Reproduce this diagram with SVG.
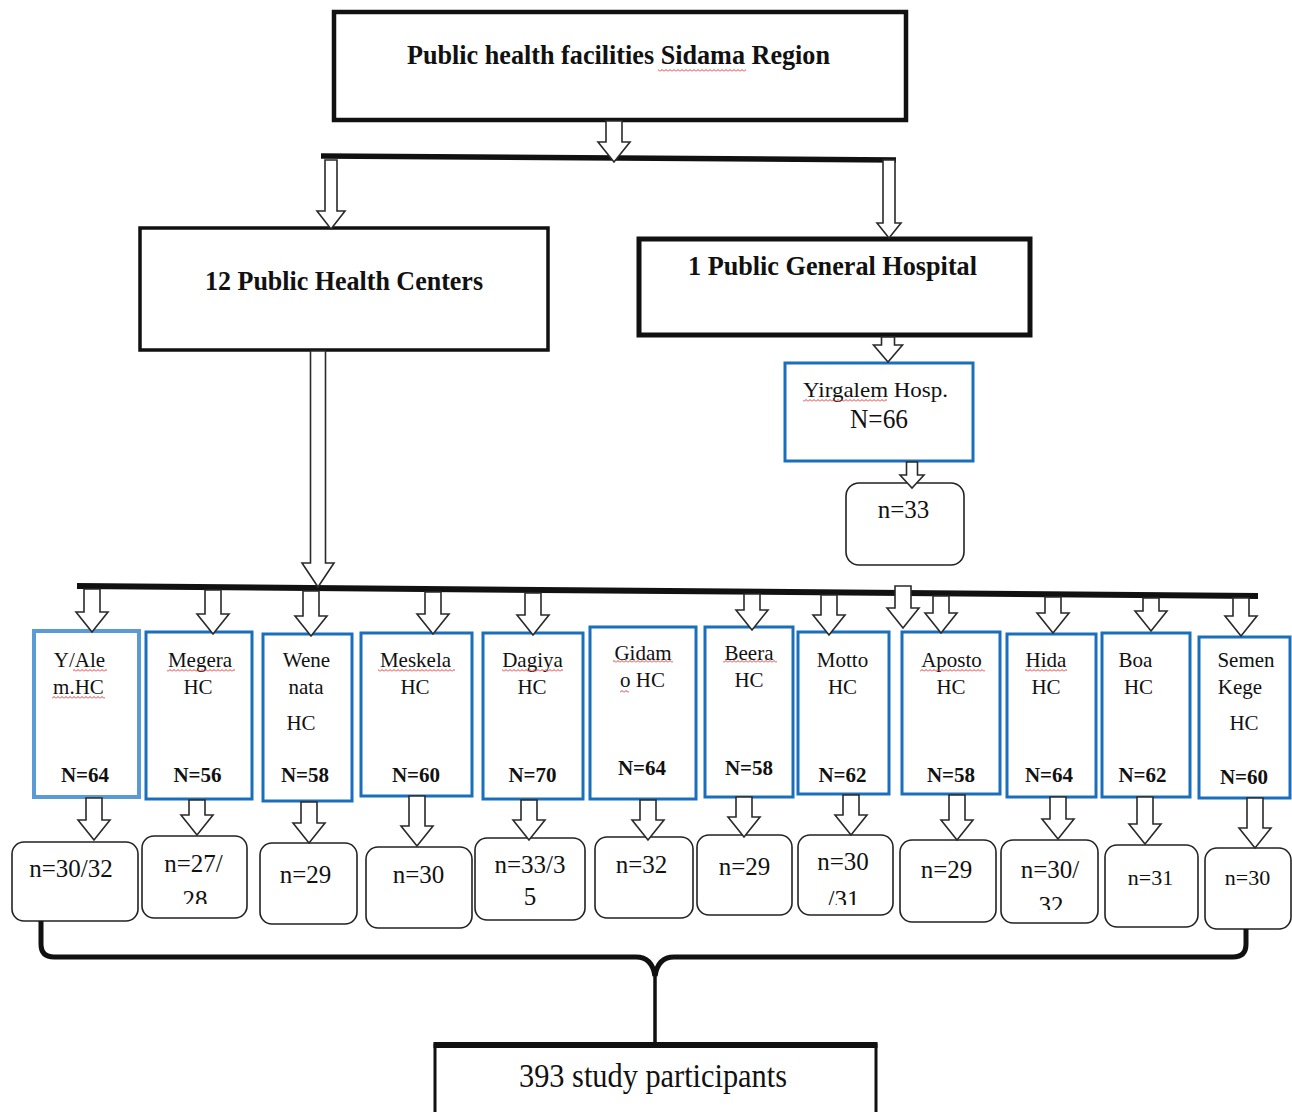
<svg xmlns="http://www.w3.org/2000/svg" width="1292" height="1112" viewBox="0 0 1292 1112">
<style>
  .bg{fill:#ffffff}
  .bk{fill:#ffffff;stroke:#111111}
  .hc{fill:#ffffff;stroke:#1a6fbd;stroke-width:3}
  .hc1{fill:#ffffff;stroke:#5b9bd5;stroke-width:4}
  .nb{fill:#ffffff;stroke:#222222;stroke-width:1.6}
  .ar{fill:#ffffff;stroke:#2a2a2a;stroke-width:1.6;stroke-linejoin:miter}
  .bar{stroke:#111111;fill:none;stroke-linecap:butt}
  text{font-family:"Liberation Serif","Times New Roman",serif;fill:#111111;text-anchor:middle}
  .t{font-size:28px;font-weight:bold}
  .nm{font-size:21px}
  .nn{font-size:21px;font-weight:bold}
  .ns{font-size:25px}
  .nsm{font-size:22px}
  .sq{fill:url(#wavy)}
</style>
<defs>
  <pattern id="wavy" width="4" height="3" patternUnits="userSpaceOnUse">
    <path d="M0 2.5 L2 0.5 L4 2.5" fill="none" stroke="#e02020" stroke-width="0.9"/>
  </pattern>
  <clipPath id="c2"><rect x="142" y="836" width="105" height="68"/></clipPath>
  <clipPath id="c8"><rect x="798" y="835" width="95" height="70"/></clipPath>
  <clipPath id="c10"><rect x="1001" y="840" width="97" height="70"/></clipPath>
</defs>
<rect class="bg" x="0" y="0" width="1292" height="1112"/>

<g id="n-top">
  <rect class="bk" x="334" y="12" width="572" height="108" stroke-width="4.5"/>
  <text class="t" x="618.5" y="64" textLength="423" lengthAdjust="spacingAndGlyphs">Public health facilities Sidama Region</text>
  <rect class="sq" x="658" y="69" width="88" height="3"/>
</g>
<g id="n-phc">
  <rect class="bk" x="140" y="228" width="408" height="122" stroke-width="3.5"/>
  <text class="t" x="344" y="290" textLength="278" lengthAdjust="spacingAndGlyphs">12 Public Health Centers</text>
</g>
<g id="n-hosp">
  <rect class="bk" x="639" y="239" width="391" height="96" stroke-width="5"/>
  <text class="t" x="832.5" y="275" textLength="289" lengthAdjust="spacingAndGlyphs">1 Public General Hospital</text>
</g>
<g id="n-yirgalem">
  <rect class="hc" x="785" y="363" width="188" height="98"/>
  <text x="875.5" y="397" font-size="22" textLength="145" lengthAdjust="spacingAndGlyphs">Yirgalem Hosp.</text>
  <rect class="sq" x="803" y="399" width="84" height="3"/>
  <text x="879" y="428" font-size="27" textLength="58" lengthAdjust="spacingAndGlyphs">N=66</text>
</g>
<g id="n-yirgalem-n">
  <rect class="nb" x="846" y="483" width="118" height="82" rx="13"/>
  <text class="ns" x="903.5" y="518">n=33</text>
</g>

<g id="hc-yalem">
  <rect class="hc1" x="34" y="631" width="105" height="166"/>
  <text class="nm" x="79.5" y="667">Y/Ale</text>
  <text class="nm" x="78.5" y="694">m.HC</text>
  <rect class="sq" x="73" y="669" width="34" height="3"/>
  <rect class="sq" x="52" y="696" width="53" height="3"/>
  <text class="nn" x="85" y="782">N=64</text>
</g>
<g id="hc-megera">
  <rect class="hc" x="146" y="632" width="106" height="167"/>
  <text class="nm" x="200" y="667">Megera</text>
  <rect class="sq" x="167" y="669" width="68" height="3"/>
  <text class="nm" x="198" y="694">HC</text>
  <text class="nn" x="197.5" y="782">N=56</text>
</g>
<g id="hc-wenenata">
  <rect class="hc" x="263" y="634" width="89" height="167"/>
  <text class="nm" x="306.5" y="667">Wene</text>
  <text class="nm" x="306" y="694">nata</text>
  <text class="nm" x="301" y="730">HC</text>
  <text class="nn" x="305" y="782">N=58</text>
</g>
<g id="hc-meskela">
  <rect class="hc" x="361" y="633" width="111" height="163"/>
  <text class="nm" x="415.5" y="667">Meskela</text>
  <rect class="sq" x="378" y="669" width="77" height="3"/>
  <text class="nm" x="415" y="694">HC</text>
  <text class="nn" x="416" y="782">N=60</text>
</g>
<g id="hc-dagiya">
  <rect class="hc" x="483" y="633" width="100" height="166"/>
  <text class="nm" x="532.5" y="667">Dagiya</text>
  <rect class="sq" x="502" y="669" width="61" height="3"/>
  <text class="nm" x="532" y="694">HC</text>
  <text class="nn" x="532.5" y="782">N=70</text>
</g>
<g id="hc-gidamo">
  <rect class="hc" x="590" y="627" width="106" height="172"/>
  <text class="nm" x="643" y="660">Gidam</text>
  <rect class="sq" x="613" y="660" width="60" height="3"/>
  <text class="nm" x="642.5" y="687">o HC</text>
  <rect class="sq" x="620" y="690" width="9" height="3"/>
  <text class="nn" x="642" y="775">N=64</text>
</g>
<g id="hc-beera">
  <rect class="hc" x="705" y="627" width="88" height="170"/>
  <text class="nm" x="749" y="660">Beera</text>
  <rect class="sq" x="723" y="660" width="54" height="3"/>
  <text class="nm" x="749" y="687">HC</text>
  <text class="nn" x="749" y="775">N=58</text>
</g>
<g id="hc-motto">
  <rect class="hc" x="798" y="632" width="91" height="162"/>
  <text class="nm" x="842.5" y="667">Motto</text>
  <text class="nm" x="842.5" y="694">HC</text>
  <text class="nn" x="842.5" y="782">N=62</text>
</g>
<g id="hc-aposto">
  <rect class="hc" x="902" y="632" width="98" height="162"/>
  <text class="nm" x="951.5" y="667">Aposto</text>
  <rect class="sq" x="920" y="669" width="65" height="3"/>
  <text class="nm" x="951" y="694">HC</text>
  <text class="nn" x="951" y="782">N=58</text>
</g>
<g id="hc-hida">
  <rect class="hc" x="1007" y="634" width="89" height="163"/>
  <text class="nm" x="1046" y="667">Hida</text>
  <rect class="sq" x="1025" y="669" width="42" height="3"/>
  <text class="nm" x="1046" y="694">HC</text>
  <text class="nn" x="1049" y="782">N=64</text>
</g>
<g id="hc-boa">
  <rect class="hc" x="1102" y="633" width="88" height="164"/>
  <text class="nm" x="1135.5" y="667">Boa</text>
  <text class="nm" x="1138.5" y="694">HC</text>
  <text class="nn" x="1142.5" y="782">N=62</text>
</g>
<g id="hc-semenkege">
  <rect class="hc" x="1199" y="637" width="91" height="161"/>
  <text class="nm" x="1246" y="667">Semen</text>
  <text class="nm" x="1240" y="694">Kege</text>
  <text class="nm" x="1244" y="730">HC</text>
  <text class="nn" x="1244" y="784">N=60</text>
</g>

<g id="n-yalem"><rect class="nb" x="12" y="842" width="126" height="79" rx="12"/><text class="ns" x="71" y="877">n=30/32</text></g>
<g id="n-megera"><rect class="nb" x="142" y="836" width="105" height="82" rx="12"/><text class="ns" x="193.5" y="872">n=27/</text><text class="ns" x="195" y="908" clip-path="url(#c2)">28</text></g>
<g id="n-wenenata"><rect class="nb" x="260" y="843" width="97" height="81" rx="12"/><text class="ns" x="305.5" y="883">n=29</text></g>
<g id="n-meskela"><rect class="nb" x="366" y="847" width="106" height="81" rx="12"/><text class="ns" x="418.5" y="883">n=30</text></g>
<g id="n-dagiya"><rect class="nb" x="475" y="838" width="110" height="82" rx="12"/><text class="ns" x="530" y="873">n=33/3</text><text class="ns" x="530" y="905">5</text></g>
<g id="n-gidamo"><rect class="nb" x="595" y="837" width="98" height="81" rx="12"/><text class="ns" x="641.5" y="873">n=32</text></g>
<g id="n-beera"><rect class="nb" x="697" y="835" width="95" height="80" rx="12"/><text class="ns" x="744.5" y="875">n=29</text></g>
<g id="n-motto"><rect class="nb" x="798" y="835" width="95" height="80" rx="12"/><text class="ns" x="843" y="870">n=30</text><text class="ns" x="843.5" y="908" clip-path="url(#c8)">/31</text></g>
<g id="n-aposto"><rect class="nb" x="900" y="840" width="96" height="82" rx="12"/><text class="ns" x="946.5" y="878">n=29</text></g>
<g id="n-hida"><rect class="nb" x="1001" y="840" width="97" height="83" rx="12"/><text class="ns" x="1050" y="878">n=30/</text><text class="ns" x="1051" y="914" clip-path="url(#c10)">32</text></g>
<g id="n-boa"><rect class="nb" x="1105" y="845" width="93" height="82" rx="12"/><text class="nsm" x="1150.5" y="885">n=31</text></g>
<g id="n-semenkege"><rect class="nb" x="1205" y="848" width="86" height="81" rx="12"/><text class="nsm" x="1247.5" y="885">n=30</text></g>

<g id="n-total">
  <rect class="bk" x="435" y="1045" width="441" height="72" stroke-width="3"/>
  <line class="bar" x1="433.5" y1="1045" x2="877.5" y2="1045" stroke-width="6"/>
  <text x="653" y="1087" font-size="33" textLength="268" lengthAdjust="spacingAndGlyphs">393 study participants</text>
</g>

<g id="connectors">
  <line class="bar" x1="321" y1="156" x2="896" y2="160" stroke-width="5.5"/>
  <line class="bar" x1="77" y1="586" x2="1258" y2="596" stroke-width="6"/>
  <path class="ar" d="M606 121 H622 V142 H630 L614 162 L598 142 H606 Z"/>
  <path class="ar" d="M325 160 H337 V211 H345 L331 229 L317 211 H325 Z"/>
  <path class="ar" d="M883 160 H895 V223 H901 L889 238 L877 223 H883 Z"/>
  <path class="ar" d="M310.5 351 H325.5 V563 H334 L318 587 L302 563 H310.5 Z"/>
  <path class="ar" d="M881.5 337 H894.5 V345 H902.5 L888 362 L873.5 345 H881.5 Z"/>
  <path class="ar" d="M906.5 462 H917.5 V475 H924 L912 488 L900 475 H906.5 Z"/>

  <path class="ar" d="M84 589 H100 V612 H108 L92 632 L76 612 H84 Z"/>
  <path class="ar" d="M205 590 H221 V614 H229 L213 634 L197 614 H205 Z"/>
  <path class="ar" d="M303 591 H319 V616 H327 L311 636 L295 616 H303 Z"/>
  <path class="ar" d="M425 592 H441 V614 H449 L433 634 L417 614 H425 Z"/>
  <path class="ar" d="M525 593 H541 V615 H549 L533 635 L517 615 H525 Z"/>
  <path class="ar" d="M744 594 H760 V610 H768 L752 630 L736 610 H744 Z"/>
  <path class="ar" d="M821 595 H837 V615 H845 L829 635 L813 615 H821 Z"/>
  <path class="ar" d="M895 586 H911 V608 H919 L903 628 L887 608 H895 Z"/>
  <path class="ar" d="M933 596 H949 V613 H957 L941 633 L925 613 H933 Z"/>
  <path class="ar" d="M1045 597 H1061 V613 H1069 L1053 633 L1037 613 H1045 Z"/>
  <path class="ar" d="M1143 598 H1159 V611 H1167 L1151 631 L1135 611 H1143 Z"/>
  <path class="ar" d="M1233 598 H1249 V616 H1257 L1241 636 L1225 616 H1233 Z"/>

  <path class="ar" d="M86 798 H102 V820 H110 L94 840 L78 820 H86 Z"/>
  <path class="ar" d="M189 800 H205 V815 H213 L197 835 L181 815 H189 Z"/>
  <path class="ar" d="M301 802 H317 V823 H325 L309 843 L293 823 H301 Z"/>
  <path class="ar" d="M409 796 H425 V826 H433 L417 846 L401 826 H409 Z"/>
  <path class="ar" d="M521 800 H537 V820 H545 L529 840 L513 820 H521 Z"/>
  <path class="ar" d="M640 800 H656 V820 H664 L648 840 L632 820 H640 Z"/>
  <path class="ar" d="M736 797 H752 V817 H760 L744 837 L728 817 H736 Z"/>
  <path class="ar" d="M843 795 H859 V815 H867 L851 835 L835 815 H843 Z"/>
  <path class="ar" d="M949 795 H965 V820 H973 L957 840 L941 820 H949 Z"/>
  <path class="ar" d="M1050 797 H1066 V819 H1074 L1058 839 L1042 819 H1050 Z"/>
  <path class="ar" d="M1137 797 H1153 V824 H1161 L1145 844 L1129 824 H1137 Z"/>
  <path class="ar" d="M1247 798 H1263 V828 H1271 L1255 848 L1239 828 H1247 Z"/>

  <path class="bar" d="M41 921 V944 Q41 957 54 957 H636 Q652 957 655 976" stroke-width="5"/>
  <path class="bar" d="M1246 929 V944 Q1246 957 1233 957 H674 Q658 957 655 976" stroke-width="5"/>
  <line class="bar" x1="655" y1="970" x2="655" y2="1044" stroke-width="3.5"/>
</g>
</svg>
